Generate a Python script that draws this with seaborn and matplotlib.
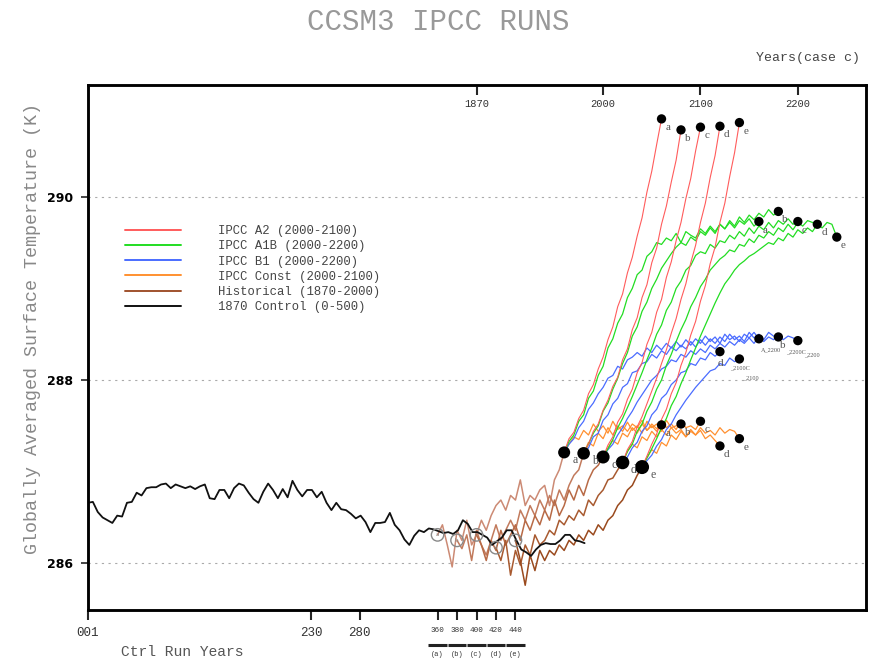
import numpy as np
import pandas as pd
import matplotlib
matplotlib.use("Agg")
import matplotlib.pyplot as plt
import matplotlib.transforms as mtransforms
from matplotlib.lines import Line2D
import seaborn as sns

sns.set_theme(style="white")
plt.rcParams["font.family"] = ["Liberation Mono", "DejaVu Sans"]

# ---------------- data ----------------
runs = ["a", "b", "c", "d", "e"]
branch_years = [360, 380, 400, 420, 440]      # control year where each run branches
hist_len = 130                                  # 1870-2000
step = 5                                        # sampling interval (years)

control_temp = [
    286.66, 286.67, 286.56, 286.50, 286.47, 286.44, 286.52, 286.51, 286.66, 286.67,
    286.77, 286.74, 286.82, 286.83, 286.83, 286.86, 286.87, 286.82, 286.86, 286.84,
    286.82, 286.84, 286.81, 286.84, 286.86, 286.71, 286.70, 286.80, 286.80, 286.71,
    286.82, 286.87, 286.85, 286.77, 286.70, 286.66, 286.78, 286.87, 286.80, 286.71,
    286.81, 286.72, 286.90, 286.80, 286.73, 286.80, 286.80, 286.72, 286.78, 286.66,
    286.58, 286.66, 286.59, 286.58, 286.54, 286.49, 286.52, 286.45, 286.34, 286.44,
    286.44, 286.45, 286.55, 286.42, 286.36, 286.26, 286.20, 286.30, 286.36, 286.34,
    286.38, 286.37, 286.35, 286.33, 286.34, 286.32, 286.36, 286.47, 286.43, 286.34,
    286.34, 286.31, 286.28, 286.20, 286.24, 286.28, 286.36, 286.36, 286.25, 286.15,
    286.12, 286.08, 286.15, 286.20, 286.22, 286.21, 286.21, 286.25, 286.31, 286.31,
    286.25, 286.24, 286.22]

hist_temp = {
    "a": [286.31, 286.42, 286.20, 285.96, 286.36, 286.25, 286.47, 286.20, 286.31, 286.47,
          286.36, 286.52, 286.63, 286.69, 286.58, 286.74, 286.69, 286.91, 286.63, 286.74,
          286.69, 286.80, 286.85, 286.63, 286.91, 287.02, 287.21],
    "b": [286.25, 286.16, 286.31, 286.03, 286.36, 286.20, 286.09, 286.25, 286.42, 286.25,
          286.36, 286.47, 286.36, 286.58, 286.47, 286.63, 286.52, 286.69, 286.58, 286.74,
          286.63, 286.80, 286.69, 286.85, 286.96, 287.02, 287.20],
    "c": [286.31, 286.20, 286.03, 286.25, 286.14, 286.36, 286.20, 286.31, 286.42, 286.25,
          286.47, 286.36, 286.52, 286.42, 286.58, 286.47, 286.69, 286.52, 286.63, 286.80,
          286.69, 286.85, 286.74, 286.91, 287.02, 287.07, 287.16],
    "d": [286.17, 286.03, 286.25, 285.87, 286.14, 285.98, 286.20, 286.09, 286.31, 286.20,
          286.25, 286.36, 286.31, 286.47, 286.42, 286.52, 286.47, 286.58, 286.52, 286.69,
          286.63, 286.74, 286.80, 286.91, 286.93, 287.02, 287.10],
    "e": [286.25, 286.03, 285.76, 286.09, 285.92, 286.14, 286.03, 286.14, 286.09, 286.20,
          286.14, 286.25, 286.20, 286.31, 286.25, 286.36, 286.31, 286.42, 286.36, 286.47,
          286.52, 286.63, 286.69, 286.80, 286.85, 286.96, 287.05],
}

a2_temp = {
    "a": [287.21, 287.36, 287.43, 287.58, 287.67, 287.85, 287.95, 288.12, 288.25, 288.44,
          288.58, 288.80, 288.94, 289.17, 289.34, 289.57, 289.77, 290.05, 290.28, 290.57, 290.85],
    "b": [287.20, 287.30, 287.44, 287.52, 287.67, 287.78, 287.93, 288.03, 288.22, 288.34,
          288.55, 288.68, 288.90, 289.04, 289.28, 289.44, 289.70, 289.90, 290.16, 290.40, 290.73],
    "c": [287.16, 287.29, 287.38, 287.54, 287.63, 287.79, 287.90, 288.08, 288.19, 288.39,
          288.52, 288.74, 288.88, 289.12, 289.29, 289.52, 289.72, 289.98, 290.20, 290.50, 290.76],
    "d": [287.10, 287.24, 287.33, 287.49, 287.60, 287.74, 287.88, 288.02, 288.18, 288.33,
          288.51, 288.67, 288.88, 289.05, 289.28, 289.47, 289.72, 289.93, 290.21, 290.45, 290.77],
    "e": [287.05, 287.17, 287.30, 287.41, 287.57, 287.68, 287.85, 287.97, 288.16, 288.30,
          288.49, 288.64, 288.86, 289.03, 289.27, 289.45, 289.72, 289.93, 290.22, 290.48, 290.81],
}

a1b_temp = {
    "a": [287.21, 287.33, 287.40, 287.55, 287.62, 287.80, 287.88, 288.05, 288.15, 288.35,
          288.45, 288.62, 288.72, 288.90, 289.00, 289.15, 289.20, 289.35, 289.40, 289.50,
          289.48, 289.55, 289.52, 289.60, 289.50, 289.62, 289.58, 289.55, 289.65, 289.60,
          289.68, 289.62, 289.70, 289.65, 289.72, 289.66, 289.74, 289.70, 289.76, 289.68, 289.73],
    "b": [287.20, 287.30, 287.42, 287.50, 287.66, 287.75, 287.90, 288.02, 288.18, 288.30,
          288.48, 288.58, 288.75, 288.85, 289.00, 289.10, 289.22, 289.30, 289.38, 289.45,
          289.50, 289.47, 289.56, 289.52, 289.62, 289.58, 289.66, 289.60, 289.70, 289.65,
          289.74, 289.68, 289.78, 289.72, 289.80, 289.75, 289.82, 289.78, 289.86, 289.80, 289.84],
    "c": [287.16, 287.25, 287.35, 287.48, 287.58, 287.70, 287.82, 287.95, 288.08, 288.22,
          288.35, 288.50, 288.60, 288.76, 288.85, 289.00, 289.08, 289.20, 289.25, 289.36,
          289.40, 289.38, 289.48, 289.44, 289.52, 289.50, 289.58, 289.54, 289.62, 289.57,
          289.66, 289.60, 289.68, 289.64, 289.72, 289.66, 289.74, 289.70, 289.76, 289.70, 289.73],
    "d": [287.10, 287.22, 287.30, 287.44, 287.52, 287.66, 287.76, 287.90, 288.00, 288.16,
          288.28, 288.42, 288.55, 288.66, 288.80, 288.90, 289.02, 289.10, 289.20, 289.26,
          289.32, 289.36, 289.42, 289.40, 289.48, 289.46, 289.54, 289.50, 289.58, 289.55,
          289.62, 289.58, 289.66, 289.62, 289.70, 289.64, 289.72, 289.68, 289.74, 289.72, 289.70],
    "e": [287.05, 287.15, 287.25, 287.36, 287.48, 287.58, 287.72, 287.82, 287.96, 288.08,
          288.22, 288.35, 288.48, 288.60, 288.72, 288.84, 288.95, 289.05, 289.12, 289.20,
          289.26, 289.30, 289.35, 289.38, 289.42, 289.46, 289.50, 289.48, 289.55, 289.52,
          289.60, 289.56, 289.64, 289.60, 289.66, 289.62, 289.70, 289.66, 289.72, 289.70, 289.56],
}

b1_temp = {
    "a": [287.21, 287.30, 287.36, 287.48, 287.55, 287.68, 287.75, 287.85, 287.92, 288.02,
          288.05, 288.15, 288.12, 288.22, 288.25, 288.30, 288.26, 288.35, 288.30, 288.38,
          288.33, 288.40, 288.35, 288.42, 288.36, 288.44, 288.38, 288.45, 288.40, 288.48,
          288.42, 288.47, 288.40, 288.50, 288.44, 288.48, 288.42, 288.50, 288.46, 288.52, 288.45],
    "b": [287.20, 287.26, 287.38, 287.42, 287.56, 287.62, 287.74, 287.80, 287.92, 287.96,
          288.08, 288.10, 288.18, 288.20, 288.28, 288.24, 288.32, 288.28, 288.36, 288.32,
          288.38, 288.34, 288.42, 288.36, 288.44, 288.38, 288.45, 288.40, 288.47, 288.42,
          288.50, 288.44, 288.48, 288.42, 288.52, 288.46, 288.50, 288.44, 288.52, 288.48, 288.47],
    "c": [287.16, 287.24, 287.30, 287.40, 287.48, 287.58, 287.66, 287.76, 287.84, 287.92,
          288.00, 288.05, 288.12, 288.15, 288.22, 288.20, 288.28, 288.25, 288.32, 288.28,
          288.34, 288.30, 288.38, 288.34, 288.40, 288.36, 288.42, 288.38, 288.44, 288.40,
          288.46, 288.40, 288.48, 288.42, 288.47, 288.44, 288.50, 288.44, 288.48, 288.46, 288.43],
    "d": [287.10, 287.16, 287.26, 287.32, 287.44, 287.50, 287.62, 287.68, 287.80, 287.85,
          287.95, 288.00, 288.08, 288.10, 288.18, 288.16, 288.24, 288.22, 288.30, 288.26, 288.31],
    "e": [287.05, 287.12, 287.18, 287.28, 287.35, 287.46, 287.52, 287.62, 287.70, 287.78,
          287.85, 287.92, 287.98, 288.04, 288.10, 288.12, 288.18, 288.16, 288.24, 288.20, 288.23],
}

const_temp = {
    "a": [287.21, 287.30, 287.38, 287.35, 287.45, 287.40, 287.52, 287.44, 287.50, 287.42,
          287.55, 287.46, 287.50, 287.44, 287.52, 287.48, 287.56, 287.45, 287.52, 287.47, 287.51],
    "b": [287.20, 287.32, 287.28, 287.42, 287.36, 287.48, 287.40, 287.50, 287.44, 287.54,
          287.45, 287.50, 287.42, 287.55, 287.48, 287.52, 287.44, 287.56, 287.48, 287.50, 287.52],
    "c": [287.16, 287.26, 287.34, 287.30, 287.42, 287.38, 287.48, 287.42, 287.52, 287.45,
          287.50, 287.44, 287.56, 287.48, 287.52, 287.46, 287.55, 287.48, 287.50, 287.46, 287.55],
    "d": [287.10, 287.22, 287.30, 287.26, 287.38, 287.34, 287.44, 287.38, 287.46, 287.40,
          287.48, 287.42, 287.46, 287.38, 287.44, 287.40, 287.45, 287.36, 287.40, 287.34, 287.28],
    "e": [287.05, 287.15, 287.24, 287.20, 287.32, 287.28, 287.40, 287.35, 287.44, 287.38,
          287.46, 287.40, 287.48, 287.42, 287.45, 287.40, 287.48, 287.42, 287.46, 287.44, 287.36],
}

legend_labels = ["IPCC A2 (2000-2100)", "IPCC A1B (2000-2200)", "IPCC B1 (2000-2200)",
                 "IPCC Const (2000-2100)", "Historical (1870-2000)", "1870 Control (0-500)"]
bottom_major_ticks = [1, 230, 280]
bottom_major_labels = ["001", "230", "280"]
bottom_minor_ticks = [360, 380, 400, 420, 440]
top_tick_years = [1870, 2000, 2100, 2200]
case_c_branch = 400
y_ticks = [286, 288, 290]

# ---------------- styles ----------------
c_red, c_green, c_blue, c_orange = "#ff5c5c", "#22dd22", "#4a6cff", "#ff9030"
hist_colors = {"a": "#cc8a74", "b": "#c27a5c", "c": "#b86a46", "d": "#a85a30", "e": "#9a4a1e"}
lab_col = "#555555"

fig = plt.figure(figsize=(8.7, 6.58), dpi=100)
ax = fig.add_axes([88 / 870, 1 - 610 / 658, 778 / 870, 525 / 658])
ax.set_xlim(1, 800)
ax.set_ylim(285.49, 291.22)


def draw(x, y, color, lw, z):
    sns.lineplot(x=x, y=y, color=color, lw=lw, ax=ax, zorder=z,
                 estimator=None, sort=False, legend=False)


# control
ctrl_x = 1 + step * np.arange(len(control_temp))

# historical
hist_end = {}
for r, b in zip(runs, branch_years):
    hx = b + step * np.arange(len(hist_temp[r]))
    draw(hx, hist_temp[r], hist_colors[r], 1.1, 3)
    hist_end[r] = (hx[-1], hist_temp[r][-1])

draw(ctrl_x, control_temp, "#111111", 1.3, 4)

# scenarios
ends = {}
for name, dat, col, lw, z in [("const", const_temp, c_orange, 0.9, 5),
                              ("b1", b1_temp, c_blue, 0.9, 6),
                              ("a1b", a1b_temp, c_green, 0.9, 7),
                              ("a2", a2_temp, c_red, 0.8, 8)]:
    ends[name] = {}
    for r in runs:
        x0 = hist_end[r][0]
        sx = x0 + step * np.arange(len(dat[r]))
        draw(sx, dat[r], col, lw, z)
        ends[name][r] = (sx[-1], dat[r][-1])

# open circles on the control run at branch points
sns.scatterplot(x=branch_years, y=[hist_temp[r][0] for r in runs], s=80,
                facecolor="none", edgecolor="#888888", linewidth=1.0, ax=ax, zorder=9, legend=False)
for r, b in zip(runs, branch_years):
    ax.text(b, hist_temp[r][0], r, fontsize=5, color="#888888", ha="center", va="center",
            family="Liberation Serif", zorder=10)

# big dots at end of historical runs
big_sizes = [75, 82, 88, 95, 102]
sns.scatterplot(x=[hist_end[r][0] for r in runs], y=[hist_end[r][1] for r in runs],
                s=big_sizes, size=big_sizes, sizes=(75, 102), color="black", edgecolor="none",
                ax=ax, zorder=11, legend=False)
for r in runs:
    ax.annotate(r, hist_end[r], xytext=(8, -11), textcoords="offset pixels", fontsize=8.5,
                color=lab_col, family="Liberation Serif", zorder=12)

# small dots at scenario ends
for name in ["a2", "a1b", "const"]:
    xs = [ends[name][r][0] for r in runs]
    ys = [ends[name][r][1] for r in runs]
    sns.scatterplot(x=xs, y=ys, s=45, color="black", edgecolor="none", ax=ax, zorder=11, legend=False)
    for r in runs:
        ax.annotate(r, ends[name][r], xytext=(4, -11), textcoords="offset pixels", fontsize=8,
                    color=lab_col, family="Liberation Serif", zorder=12)

xs = [ends["b1"][r][0] for r in runs]
ys = [ends["b1"][r][1] for r in runs]
sns.scatterplot(x=xs, y=ys, s=45, color="black", edgecolor="none", ax=ax, zorder=11, legend=False)
b1_labels = {"a": [("A_2200", 2, -13)], "b": [("b", 2, -11), ("_2200C", 8, -16)],
             "c": [("_2200", 6, -16)], "d": [("d", -2, -14), ("_2100C", 10, -18)],
             "e": [("_2100", 4, -20)]}
for r in runs:
    for txt, dx, dy in b1_labels[r]:
        ax.annotate(txt, ends["b1"][r], xytext=(dx, dy), textcoords="offset pixels",
                    fontsize=4.5 if len(txt) > 1 else 8, color=lab_col,
                    family="Liberation Serif", zorder=12)

# grid lines
for yt in y_ticks:
    ax.axhline(yt, color="#aaaaaa", lw=0.8, ls=(0, (2, 4)), zorder=1)

# y axis
ax.set_yticks(y_ticks)
ax.set_yticklabels([str(v) for v in y_ticks], fontsize=9, fontweight="bold",
                   family="DejaVu Sans", color="black")
ax.tick_params(axis="y", direction="out", length=5, width=1.2, pad=6, left=True)

# bottom x axis
ax.set_xticks(bottom_major_ticks + bottom_minor_ticks)
ax.set_xticklabels(bottom_major_labels + [str(v) for v in bottom_minor_ticks])
for lab in ax.get_xticklabels():
    lab.set_fontsize(9 if lab.get_text() in bottom_major_labels else 5.5)
    lab.set_color("#333333")
ax.tick_params(axis="x", direction="out", length=7, width=1.5, pad=5, bottom=True)

trans = mtransforms.blended_transform_factory(ax.transData, ax.transAxes)
for r, b in zip(runs, branch_years):
    ax.plot([b - 9.5, b + 9.5], [-0.066, -0.066], transform=trans, color="#222222",
            lw=2.2, clip_on=False, solid_capstyle="butt")
    ax.text(b, -0.085, f"({r})", transform=trans, fontsize=5, ha="center", va="center",
            color="#333333")

# top axis
ax2 = ax.twiny()
ax2.set_xlim(ax.get_xlim())
ax2.set_xticks([case_c_branch + (y - 1870) for y in top_tick_years])
ax2.set_xticklabels([str(y) for y in top_tick_years], fontsize=7.5, color="#333333")
ax2.tick_params(axis="x", direction="in", length=7, width=1.5, pad=-17, top=True)
ax2.grid(False)

for a_ in (ax, ax2):
    for s in a_.spines.values():
        s.set_color("black")
        s.set_linewidth(1.8)
ax.grid(False)

# legend
handles = [Line2D([], [], color=c, lw=1.4) for c in
           [c_red, c_green, c_blue, c_orange, "#a0522d", "#111111"]]
ax.legend(handles, legend_labels, loc="upper left", bbox_to_anchor=(0.0476, 0.733),
          frameon=False, handlelength=4.6, handletextpad=3.0, labelspacing=0.26,
          prop={"family": "Liberation Mono", "size": 8.8}, labelcolor="#444444",
          borderpad=0, borderaxespad=0)

# texts
fig.text(0.504, 1 - 22 / 658, "CCSM3 IPCC RUNS", fontsize=21, color="#999999",
         ha="center", va="center", family="Liberation Mono")
fig.text(860 / 870, 1 - 58 / 658, "Years(case c)", fontsize=9.5, color="#444444",
         ha="right", va="center", family="Liberation Mono")
fig.text(182 / 870, 1 - 652 / 658, "Ctrl Run Years", fontsize=10.5, color="#555555",
         ha="center", va="center", family="Liberation Mono")
fig.text(33 / 870, 1 - 328 / 658, "Globally Averaged Surface Temperature (K)", fontsize=13.2,
         color="#888888", rotation=90, ha="center", va="center", family="Liberation Mono")

fig.savefig("out.png", dpi=100)
